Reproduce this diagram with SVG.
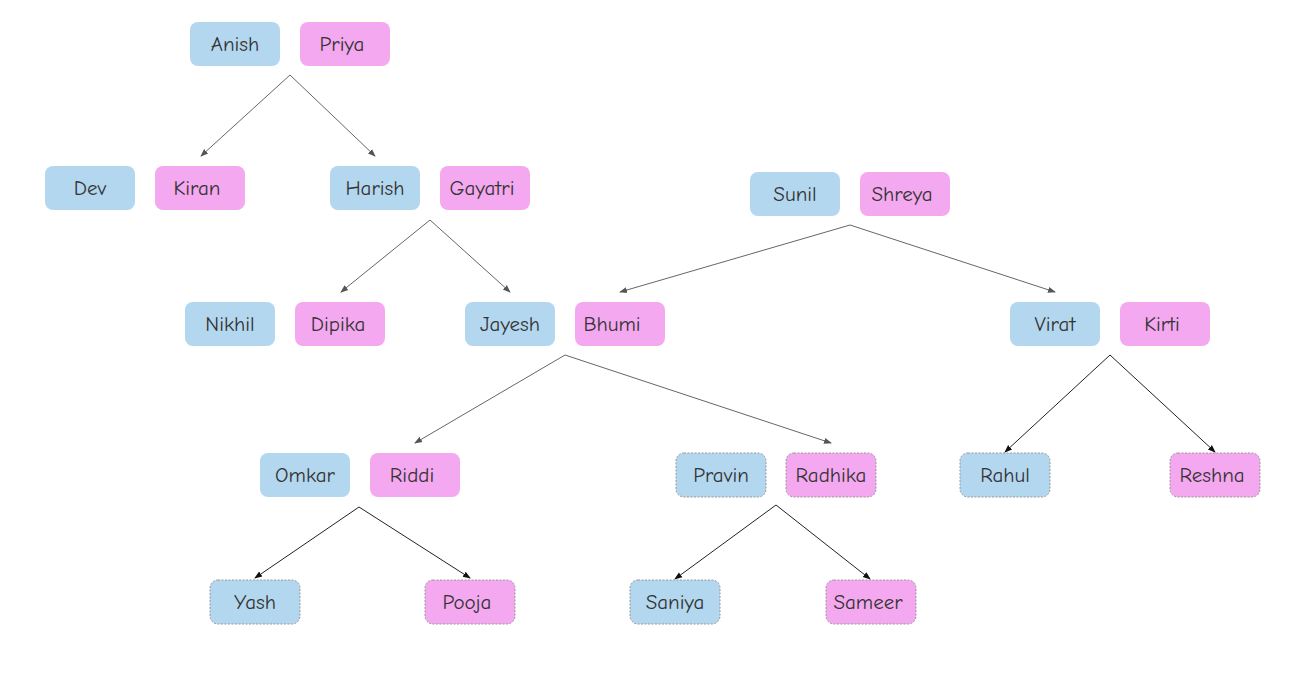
<svg xmlns="http://www.w3.org/2000/svg" width="1313" height="686" viewBox="0 0 1313 686">
<defs>
<marker id="ag" markerWidth="8" markerHeight="8" refX="7" refY="4" orient="auto" markerUnits="userSpaceOnUse"><path d="M0,1 L8,4 L0,7 Z" fill="#555"/></marker>
<marker id="ab" markerWidth="8" markerHeight="8" refX="7" refY="4" orient="auto" markerUnits="userSpaceOnUse"><path d="M0,1 L8,4 L0,7 Z" fill="#111"/></marker>
</defs>
<style>
.b{fill:#b3d7ef}
.p{fill:#f4a8ef}
.d{stroke:#999;stroke-width:1;stroke-dasharray:2 1.5}
text{font-family:"Comic Sans MS","Comic Neue","Noto Sans",sans-serif;font-size:21px;fill:#333;text-anchor:middle;dominant-baseline:central}
.cg{stroke:#666;stroke-width:1;fill:none;marker-end:url(#ag)}
.ck{stroke:#222;stroke-width:1;fill:none;marker-end:url(#ab)}
</style>
<rect width="1313" height="686" fill="#fff"/>
<g id="connectors">
<path class="cg" d="M290,75 L201,156"/>
<path class="cg" d="M290,75 L375,156"/>
<path class="cg" d="M430,220 L341,292"/>
<path class="cg" d="M430,220 L510,292"/>
<path class="cg" d="M850,225 L620,292"/>
<path class="cg" d="M850,225 L1055,292"/>
<path class="cg" d="M565,355 L415,443"/>
<path class="cg" d="M565,355 L831,443"/>
<path class="ck" d="M1110,355 L1005,452"/>
<path class="ck" d="M1110,355 L1215,452"/>
<path class="ck" d="M359,507 L255,578"/>
<path class="ck" d="M359,507 L470,578"/>
<path class="ck" d="M776,505 L675,579"/>
<path class="ck" d="M776,505 L870,579"/>
</g>
<g id="anish"><rect class="b" x="190" y="22" width="90" height="44" rx="8"/><text x="235" y="44">Anish</text></g>
<g id="priya"><rect class="p" x="300" y="22" width="90" height="44" rx="8"/><text x="342" y="44">Priya</text></g>
<g id="dev"><rect class="b" x="45" y="166" width="90" height="44" rx="8"/><text x="90" y="188">Dev</text></g>
<g id="kiran"><rect class="p" x="155" y="166" width="90" height="44" rx="8"/><text x="197" y="188">Kiran</text></g>
<g id="harish"><rect class="b" x="330" y="166" width="90" height="44" rx="8"/><text x="375" y="188">Harish</text></g>
<g id="gayatri"><rect class="p" x="440" y="166" width="90" height="44" rx="8"/><text x="482" y="188">Gayatri</text></g>
<g id="sunil"><rect class="b" x="750" y="172" width="90" height="44" rx="8"/><text x="795" y="194">Sunil</text></g>
<g id="shreya"><rect class="p" x="860" y="172" width="90" height="44" rx="8"/><text x="902" y="194">Shreya</text></g>
<g id="nikhil"><rect class="b" x="185" y="302" width="90" height="44" rx="8"/><text x="230" y="324">Nikhil</text></g>
<g id="dipika"><rect class="p" x="295" y="302" width="90" height="44" rx="8"/><text x="338" y="324">Dipika</text></g>
<g id="jayesh"><rect class="b" x="465" y="302" width="90" height="44" rx="8"/><text x="510" y="324">Jayesh</text></g>
<g id="bhumi"><rect class="p" x="575" y="302" width="90" height="44" rx="8"/><text x="612" y="324">Bhumi</text></g>
<g id="virat"><rect class="b" x="1010" y="302" width="90" height="44" rx="8"/><text x="1055" y="324">Virat</text></g>
<g id="kirti"><rect class="p" x="1120" y="302" width="90" height="44" rx="8"/><text x="1162" y="324">Kirti</text></g>
<g id="omkar"><rect class="b" x="260" y="453" width="90" height="44" rx="8"/><text x="305" y="475">Omkar</text></g>
<g id="riddi"><rect class="p" x="370" y="453" width="90" height="44" rx="8"/><text x="412" y="475">Riddi</text></g>
<g id="pravin"><rect class="b d" x="676" y="453" width="90" height="44" rx="8"/><text x="721" y="475">Pravin</text></g>
<g id="radhika"><rect class="p d" x="786" y="453" width="90" height="44" rx="8"/><text x="831" y="475">Radhika</text></g>
<g id="rahul"><rect class="b d" x="960" y="453" width="90" height="44" rx="8"/><text x="1005" y="475">Rahul</text></g>
<g id="reshna"><rect class="p d" x="1170" y="453" width="90" height="44" rx="8"/><text x="1212" y="475">Reshna</text></g>
<g id="yash"><rect class="b d" x="210" y="580" width="90" height="44" rx="8"/><text x="255" y="602">Yash</text></g>
<g id="pooja"><rect class="p d" x="425" y="580" width="90" height="44" rx="8"/><text x="467" y="602">Pooja</text></g>
<g id="saniya"><rect class="b d" x="630" y="580" width="90" height="44" rx="8"/><text x="675" y="602">Saniya</text></g>
<g id="sameer"><rect class="p d" x="826" y="580" width="90" height="44" rx="8"/><text x="868" y="602">Sameer</text></g>
</svg>
